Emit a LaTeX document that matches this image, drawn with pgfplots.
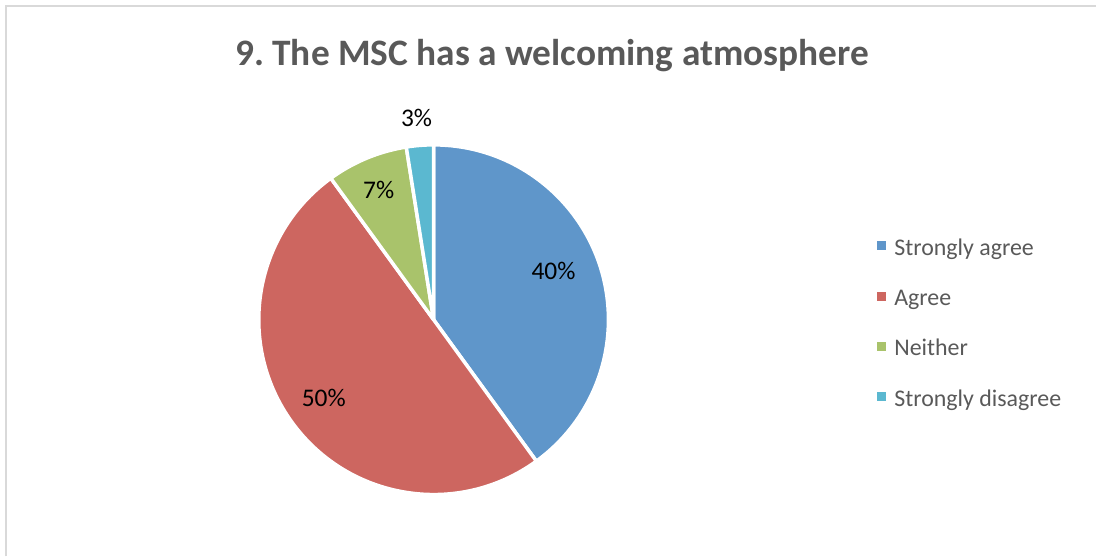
\documentclass[border=0pt]{standalone}
\usepackage{pgfplots}
\usepackage{pgfplotstable}
\pgfplotsset{compat=1.18}
\usepackage{fontspec}
\setmainfont{Carlito}
\frenchspacing
\definecolor{cA}{HTML}{5F96CA}
\definecolor{cB}{HTML}{CD6660}
\definecolor{cC}{HTML}{A9C36B}
\definecolor{cD}{HTML}{5BB8D0}
\definecolor{txtgray}{HTML}{595959}
\definecolor{bordergray}{HTML}{D9D9D9}

\pgfplotstableread{
label value
{Strongly agree} 16
Agree 20
Neither 3
{Strongly disagree} 1
}\piedata

\begin{document}
\begin{tikzpicture}
\pgfplotstablegetelem{0}{value}\of\piedata \let\vA\pgfplotsretval
\pgfplotstablegetelem{1}{value}\of\piedata \let\vB\pgfplotsretval
\pgfplotstablegetelem{2}{value}\of\piedata \let\vC\pgfplotsretval
\pgfplotstablegetelem{3}{value}\of\piedata \let\vD\pgfplotsretval
\pgfmathsetmacro\tot{\vA+\vB+\vC+\vD}
\pgfmathsetmacro\aA{90}
\pgfmathsetmacro\aB{\aA-360*\vA/\tot}
\pgfmathsetmacro\aC{\aB-360*\vB/\tot}
\pgfmathsetmacro\aD{\aC-360*\vC/\tot}
\pgfmathsetmacro\aE{\aD-360*\vD/\tot}
\begin{axis}[
  width=1097bp, height=557bp, scale only axis,
  hide axis, clip=false,
  xmin=0, xmax=1097, ymin=0, ymax=557,
  legend cell align=left,
  legend image code/.code={\path[#1] (0bp,-0.5bp) rectangle (9bp,8.5bp);},
  legend style={draw=none, fill=none,
    at={(axis description cs:0.80036,0.5718)}, anchor=north west,
    font=\fontsize{24}{24}\selectfont, text=txtgray,
    inner sep=0pt,
    nodes={text height=17bp, text depth=6bp, inner sep=0pt},
    row sep=27.3bp,
    /tikz/every odd column/.append style={column sep=8bp}},
]
\path (axis cs:0,0) rectangle (axis cs:1097,557);
\draw[bordergray, line width=2bp] (axis cs:6,0) -- (axis cs:6,551) -- (axis cs:1097,551);

\addlegendimage{fill=cA, draw=none}\addlegendentry{Strongly agree}
\addlegendimage{fill=cB, draw=none}\addlegendentry{Agree}
\addlegendimage{fill=cC, draw=none}\addlegendentry{Neither}
\addlegendimage{fill=cD, draw=none}\addlegendentry{Strongly disagree}

\filldraw[fill=cA, draw=white, line width=3.5bp, line join=round] (axis cs:434,237) -- ++(\aA:175bp) arc[start angle=\aA, end angle=\aB, radius=175bp] -- cycle;
\filldraw[fill=cB, draw=white, line width=3.5bp, line join=round] (axis cs:434,237) -- ++(\aB:175bp) arc[start angle=\aB, end angle=\aC, radius=175bp] -- cycle;
\filldraw[fill=cC, draw=white, line width=3.5bp, line join=round] (axis cs:434,237) -- ++(\aC:175bp) arc[start angle=\aC, end angle=\aD, radius=175bp] -- cycle;
\filldraw[fill=cD, draw=white, line width=3.5bp, line join=round] (axis cs:434,237) -- ++(\aD:175bp) arc[start angle=\aD, end angle=\aE, radius=175bp] -- cycle;

\node[anchor=base, font=\fontsize{25.5}{25.5}\selectfont] at (axis cs:554,277) {40\%};
\node[anchor=base, font=\fontsize{25.5}{25.5}\selectfont] at (axis cs:324,150) {50\%};
\node[anchor=base, font=\fontsize{25.5}{25.5}\selectfont] at (axis cs:379,358) {7\%};
\node[anchor=base, font=\fontsize{25.5}{25.5}\selectfont] at (axis cs:417,430) {3\%};

\node[anchor=base, font=\fontsize{37.5}{37.5}\selectfont\bfseries, text=txtgray] at (axis cs:552.5,491) {9. The MSC has a welcoming atmosphere};
\end{axis}
\end{tikzpicture}
\end{document}
